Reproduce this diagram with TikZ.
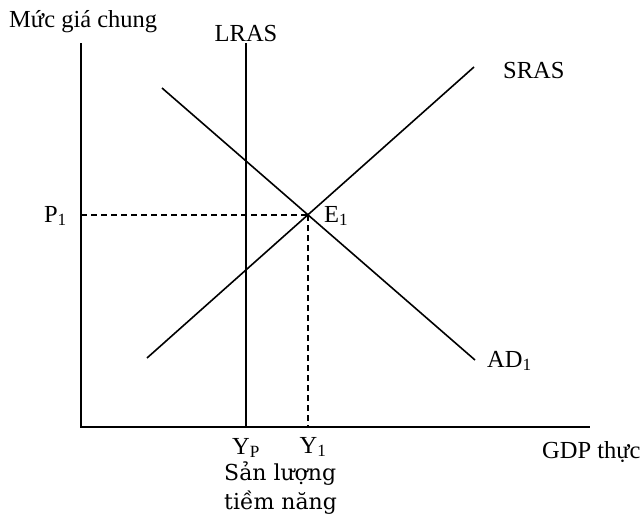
\documentclass[tikz,border=0pt]{standalone}
\usepackage{fontspec}
\setmainfont{Liberation Serif}
\newfontfamily\dvserif{DejaVu Serif}
\begin{document}
\begin{tikzpicture}[x=1pt,y=-1pt,
  lbl/.style={inner sep=0pt,font=\fontsize{24.5}{28}\selectfont},
  lbl2/.style={inner sep=0pt,anchor=west,font=\dvserif\fontsize{22}{26}\selectfont},
  axis/.style={line width=2.6pt},
  curve/.style={line width=1.6pt},
  guide/.style={line width=1.3pt,dash pattern=on 6pt off 4pt}]
\useasboundingbox (0,0) rectangle (643,517);
% axes
\coordinate (O) at (81,427);
\coordinate (ytop) at (81,43);
\coordinate (xend) at (590,427);
\draw[axis] (ytop) -- (O) -- (xend);
% LRAS
\coordinate (lt) at (246,43);
\coordinate (lb) at (246,427);
\draw[curve] (lt) -- (lb);
% SRAS
\coordinate (s1) at (147,358);
\coordinate (s2) at (474,67);
\draw[curve] (s1) -- (s2);
% AD
\coordinate (a1) at (162,88);
\coordinate (a2) at (475,360);
\draw[curve] (a1) -- (a2);
% equilibrium
\coordinate (E) at (308,215);
\coordinate (Py) at (81,215);
\coordinate (Yx) at (308,427);
\draw[guide] (Py) -- (E);
\draw[guide] (E) -- (Yx);
% labels
\node[lbl,anchor=west] (ylab) at (9,22) {Mức giá chung};
\node[lbl] (lras) at (246,34) {LRAS};
\node[lbl,anchor=west] (sras) at (503,71) {SRAS};
\node[lbl,anchor=west] (ad) at (487,361) {AD\textsubscript{1}};
\node[lbl,anchor=east] (p1) at (67,216) {P\textsubscript{1}};
\node[lbl,anchor=west] (e1) at (324,216) {E\textsubscript{1}};
\node[lbl] (yp) at (246,448) {Y\textsubscript{P}};
\node[lbl] (y1) at (313,447) {Y\textsubscript{1}};
\node[lbl,anchor=west] (gdp) at (542,452) {GDP thực};
\node[lbl2] (sl1) at (224,474) {Sản lượng};
\node[lbl2] (sl2) at (224,503) {tiềm năng};
\end{tikzpicture}
\end{document}
